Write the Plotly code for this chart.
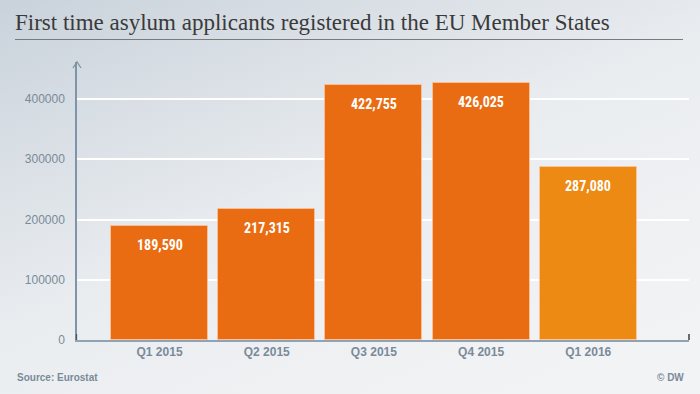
import plotly.graph_objects as go
import base64

categories = ["Q1 2015", "Q2 2015", "Q3 2015", "Q4 2015", "Q1 2016"]
applicants = [189590, 217315, 422755, 426025, 287080]
bar_colors = ["#e96c13", "#e96c13", "#e96c13", "#e96c13", "#ec8a14"]
y_ticks = [0, 100000, 200000, 300000, 400000]
y_tick_labels = ["0", "100000", "200000", "300000", "400000"]

W, H = 700, 394
ML, MR, MT, MB = 77, 11, 62, 54
PW, PH = W - ML - MR, H - MT - MB

def px(x):
    return (x - ML) / PW

def py(y):
    return (H - MB - y) / PH

svg = f'''<svg xmlns="http://www.w3.org/2000/svg" width="{W}" height="{H}" preserveAspectRatio="none" viewBox="0 0 {W} {H}">
<defs><linearGradient id="g" x1="0" y1="0" x2="0.75" y2="1">
<stop offset="0" stop-color="#c9d2db"/><stop offset="0.55" stop-color="#eaedf0"/><stop offset="1" stop-color="#f2f3f5"/>
</linearGradient></defs>
<rect width="{W}" height="{H}" fill="url(#g)"/></svg>'''
bg_uri = "data:image/svg+xml;base64," + base64.b64encode(svg.encode()).decode()

fig = go.Figure()
fig.add_trace(go.Bar(
    x=categories, y=applicants,
    marker=dict(color=bar_colors, line=dict(color="rgba(255,200,160,0.7)", width=1)),
    width=0.905, hoverinfo="skip",
))

for c, v in zip(categories, applicants):
    fig.add_annotation(x=c, y=v, text=f"<b>{v:,}</b>", showarrow=False,
                       yanchor="top", yshift=-9,
                       font=dict(family="Liberation Sans Narrow, Arial Narrow, Roboto Condensed, Liberation Sans, sans-serif",
                                 size=14, color="white"))

fig.add_layout_image(dict(source=bg_uri, xref="paper", yref="paper",
                          x=px(0), y=py(0), sizex=W / PW, sizey=H / PH,
                          xanchor="left", yanchor="top", sizing="stretch", layer="below"))

# title
fig.add_annotation(xref="paper", yref="paper", x=px(13), y=py(22), xanchor="left", yanchor="middle",
                   text="First time asylum applicants registered in the EU Member States", showarrow=False,
                   font=dict(family="Liberation Serif, DejaVu Serif, serif", size=23, color="#3a3a3a"))
fig.add_shape(type="line", xref="paper", yref="paper", x0=px(15), x1=px(683), y0=py(39.5), y1=py(39.5),
              line=dict(color="#7a7a7a", width=1.2))

# footer
fig.add_annotation(xref="paper", yref="paper", x=px(15), y=py(377), xanchor="left", yanchor="middle",
                   text="<b>Source: Eurostat</b>", showarrow=False,
                   font=dict(family="Liberation Sans, Arial, sans-serif", size=10, color="#7a8a99"))
fig.add_annotation(xref="paper", yref="paper", x=px(686), y=py(377), xanchor="right", yanchor="middle",
                   text="<b>© DW</b>", showarrow=False,
                   font=dict(family="Liberation Sans, Arial, sans-serif", size=10, color="#7a8a99"))

# y axis arrow
fig.add_shape(type="path", xref="paper", yref="paper", xsizemode="pixel", ysizemode="pixel",
              xanchor=0, yanchor=1, path="M -4,-6 L 0,0 L 4,-6",
              line=dict(color="#7f94a6", width=1.3))
# x axis end ticks
fig.add_shape(type="line", xref="paper", yref="paper", x0=1, x1=1, y0=0, y1=py(334),
              line=dict(color="#222", width=1.3))
fig.add_shape(type="line", xref="paper", yref="paper", x0=px(76.5), x1=px(76.5), y0=0, y1=py(334),
              line=dict(color="#555", width=1.3))

fig.update_layout(
    width=W, height=H,
    margin=dict(l=ML, r=MR, t=MT, b=MB),
    paper_bgcolor="#eef0f2", plot_bgcolor="rgba(0,0,0,0)",
    showlegend=False, bargap=0,
    xaxis=dict(range=[-0.77, 4.94], showgrid=False, showline=True, linecolor="#8fa3b5", linewidth=1.5,
               ticks="", tickfont=dict(family="Liberation Sans, Arial, sans-serif", size=12, color="#7a8a99"),
               tickprefix="<b>", ticksuffix="</b>", fixedrange=True),
    yaxis=dict(range=[0, 461400], tickvals=y_ticks, ticktext=y_tick_labels,
               showgrid=True, gridcolor="white", gridwidth=1.5, zeroline=False,
               showline=True, linecolor="#7f94a6", linewidth=1.5, ticks="",
               tickfont=dict(family="Liberation Sans, Arial, sans-serif", size=12, color="#7a8a99"),
               ticklabelstandoff=8, fixedrange=True),
)

fig.write_html("out.html", config={"displayModeBar": False},
               post_script="document.body.style.margin='0';document.body.style.overflow='hidden';")
